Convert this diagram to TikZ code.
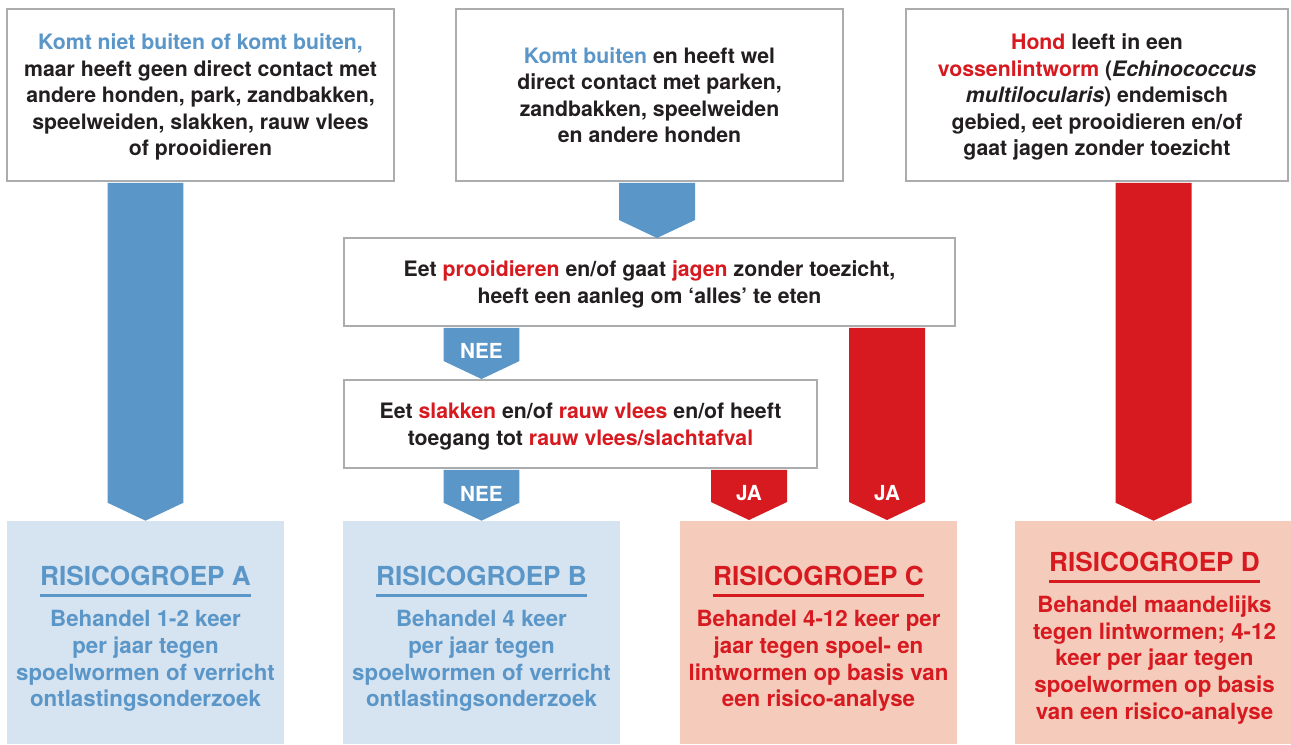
\documentclass[tikz,border=0pt]{standalone}
\usepackage{fontspec}
\setmainfont{TeX Gyre Heros}
\usetikzlibrary{calc}

\definecolor{donker}{HTML}{231F20}
\definecolor{blauw}{HTML}{5A96C8}
\definecolor{rood}{HTML}{D71920}
\definecolor{rand}{HTML}{ABACAE}
\definecolor{lichtblauw}{HTML}{D6E3F0}
\definecolor{zalm}{HTML}{F5CBBB}

% Блочная стрелка: стиль, верх, остриё
\newcommand{\blokpijl}[3]{%
  \fill[#1] let \p1=#2, \p2=#3 in
    (\x2-0.76cm,\y1-0.02cm) -- (\x2+0.76cm,\y1-0.02cm) -- (\x2+0.76cm,\y2+0.36cm)
    -- (\x2,\y2) -- (\x2-0.76cm,\y2+0.36cm) -- cycle;}

\begin{document}
\begin{tikzpicture}[x=0.02cm, y=-0.02cm,
    vak/.style={draw=rand, line width=0.04cm, fill=white, align=center, text=donker,
      text depth=0pt, font=\bfseries\fontsize{12.1}{15.1}\selectfont},
    groep/.style={minimum width=5.54cm, minimum height=4.46cm, inner sep=0pt},
    kop/.style={inner sep=0pt, font=\bfseries\fontsize{14.9}{16}\selectfont},
    uitleg/.style={align=center, inner sep=0pt, font=\bfseries\fontsize{12.7}{15.2}\selectfont},
    pijltekst/.style={text=white, inner sep=0pt, font=\bfseries\fontsize{11.8}{12}\selectfont}]

    \useasboundingbox (0,0) rectangle (1291,744);

    % Верхние блоки
    \node[vak, minimum width=7.74cm, minimum height=3.44cm] (b1) at (200.5,95)
      {\textcolor{blauw}{Komt niet buiten of komt buiten,}\\ maar heeft geen direct contact met\\
       andere honden, park, zandbakken,\\ speelweiden, slakken, rauw vlees\\ of prooidieren};
    \node[vak, minimum width=7.74cm, minimum height=3.44cm] (b2) at (649.5,95)
      {\textcolor{blauw}{Komt buiten} en heeft wel\\ direct contact met parken,\\
       zandbakken, speelweiden\\ en andere honden};
    \node[vak, minimum width=7.64cm, minimum height=3.44cm] (b3) at (1097,95)
      {\textcolor{rood}{Hond} leeft in een\\ \textcolor{rood}{vossenlintworm} (\textit{Echinococcus}\\
       \textit{multilocularis}) endemisch\\ gebied, eet prooidieren en/of\\ gaat jagen zonder toezicht};

    % Вопросы посередине
    \node[vak, minimum width=12.22cm, minimum height=1.76cm] (b4) at (649.5,282)
      {Eet \textcolor{rood}{prooidieren} en/of gaat \textcolor{rood}{jagen} zonder toezicht,\\
       heeft een aanleg om ‘alles’ te eten};
    \node[vak, minimum width=9.46cm, minimum height=1.76cm] (b5) at (580.5,424)
      {Eet \textcolor{rood}{slakken} en/of \textcolor{rood}{rauw vlees} en/of heeft\\
       toegang tot \textcolor{rood}{rauw vlees/slachtafval}};

    % Группы риска
    \node[groep, fill=lichtblauw] (bA) at (145.5,632.5) {};
    \node[groep, fill=lichtblauw] (bB) at (481.5,632.5) {};
    \node[groep, fill=zalm] (bC) at (818.5,632.5) {};
    \node[groep, fill=zalm] (bD) at (1153.5,632.5) {};

    \node[kop, text=blauw] (tA) at (145.5,576) {RISICOGROEP A};
    \node[kop, text=blauw] (tB) at (481.5,576) {RISICOGROEP B};
    \node[kop, text=rood] (tC) at (818.5,576) {RISICOGROEP C};
    \node[kop, text=rood] (tD) at (1154.5,562) {RISICOGROEP D};
    \draw[blauw, line width=0.06cm] ([yshift=-0.19cm]tA.base west) -- ([yshift=-0.19cm]tA.base east);
    \draw[blauw, line width=0.06cm] ([yshift=-0.19cm]tB.base west) -- ([yshift=-0.19cm]tB.base east);
    \draw[rood, line width=0.06cm] ([yshift=-0.19cm]tC.base west) -- ([yshift=-0.19cm]tC.base east);
    \draw[rood, line width=0.06cm] ([yshift=-0.19cm]tD.base west) -- ([yshift=-0.19cm]tD.base east);

    \node[uitleg, text=blauw] (uA) at (145.5,661)
      {Behandel 1-2 keer\\ per jaar tegen\\ spoelwormen of verricht\\ ontlastingsonderzoek};
    \node[uitleg, text=blauw] (uB) at (481.5,661)
      {Behandel 4 keer\\ per jaar tegen\\ spoelwormen of verricht\\ ontlastingsonderzoek};
    \node[uitleg, text=rood] (uC) at (818.5,661)
      {Behandel 4-12 keer per\\ jaar tegen spoel- en\\ lintwormen op basis van\\ een risico-analyse};
    \node[uitleg, text=rood] (uD) at (1154.5,660)
      {Behandel maandelijks\\ tegen lintwormen; 4-12\\ keer per jaar tegen\\ spoelwormen op basis\\ van een risico-analyse};

    % Острия стрелок, не совпадающие с блоками
    \coordinate (k2) at (657,238);
    \coordinate (jaC) at (749,520);
    \coordinate (jaD) at (887,520);

    % Стрелки
    \blokpijl{blauw}{(b1.south -| bA.north)}{(bA.north)}
    \blokpijl{blauw}{(b2.south -| k2)}{(k2)}
    \blokpijl{blauw}{(b4.south -| bB.north)}{(b5.north -| bB.north)}
    \blokpijl{blauw}{(b5.south -| bB.north)}{(bB.north)}
    \blokpijl{rood}{(b5.south -| jaC)}{(jaC)}
    \blokpijl{rood}{(b4.south -| jaD)}{(jaD)}
    \blokpijl{rood}{(b3.south -| bD.north)}{(bD.north)}

    % Подписи на стрелках
    \node[pijltekst] (nee1) at ($(b5.north -| bB.north)+(0,-28)$) {NEE};
    \node[pijltekst] (nee2) at ($(bB.north)+(0,-27)$) {NEE};
    \node[pijltekst] (ja1) at ($(jaC)+(0,-27)$) {JA};
    \node[pijltekst] (ja2) at ($(jaD)+(0,-27)$) {JA};
\end{tikzpicture}
\end{document}
